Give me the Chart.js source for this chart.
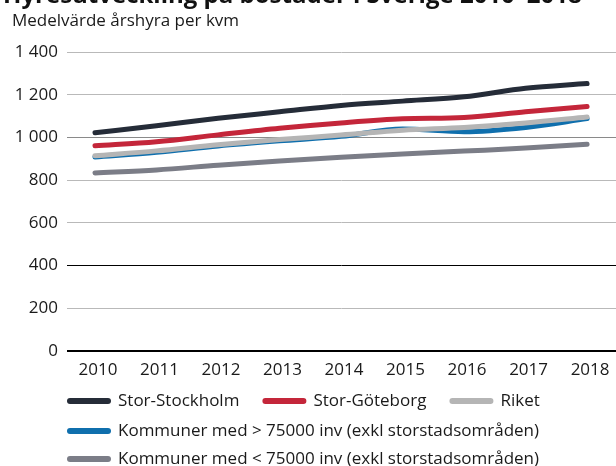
<!DOCTYPE html>
<html>
<head>
<meta charset="utf-8">
<script src="https://cdn.jsdelivr.net/npm/chart.js@4/dist/chart.umd.min.js"></script>
<style>
html,body{margin:0;padding:0;background:#fff;}
#wrap{position:relative;width:616px;height:466px;}
</style>
</head>
<body>
<div id="wrap"><canvas id="c" width="616" height="466"></canvas></div>
<script>
const titleText = "Hyresutveckling på bostäder i Sverige 2010–2018";
const subtitleText = "Medelvärde årshyra per kvm";
const years = [2010, 2011, 2012, 2013, 2014, 2015, 2016, 2017, 2018];
const yTicks = [0, 200, 400, 600, 800, 1000, 1200, 1400];

const seriesNames = [
  "Stor-Stockholm",
  "Stor-Göteborg",
  "Riket",
  "Kommuner med > 75000 inv (exkl storstadsområden)",
  "Kommuner med < 75000 inv (exkl storstadsområden)"
];
const storStockholm = [1022, 1055, 1090, 1120, 1150, 1170, 1190, 1230, 1252];
const storGoteborg  = [961, 980, 1012, 1043, 1068, 1087, 1093, 1120, 1145];
const riket         = [914, 937, 966, 990, 1011, 1034, 1047, 1068, 1096];
const kommunerOver  = [908, 930, 960, 984, 1005, 1040, 1027, 1047, 1088];
const kommunerUnder = [834, 848, 870, 890, 907, 922, 936, 950, 968];

const seriesValues = [storStockholm, storGoteborg, riket, kommunerOver, kommunerUnder];
const seriesColors = ["#252c38", "#c4263a", "#b5b5b5", "#0f6fad", "#7b7d87"];
const seriesOrder = [0, 0, 0, 1, 0];
const legendRows = [[0, 1, 2], [3], [4]];

const FONT = "'Open Sans', sans-serif";
const TEXT = "#1a1a1a";

function fmt(v) {
  return String(v).replace(/\B(?=(\d{3})+(?!\d))/g, " ");
}

const datasets = seriesNames.map((name, i) => ({
  label: name,
  data: years.map((y, j) => ({ x: y, y: seriesValues[i][j] })),
  borderColor: seriesColors[i],
  backgroundColor: seriesColors[i],
  borderWidth: 5,
  borderCapStyle: "round",
  borderJoinStyle: "round",
  pointRadius: 0,
  pointHoverRadius: 0,
  tension: 0.3,
  cubicInterpolationMode: "monotone",
  fill: false,
  order: seriesOrder[i]
}));

const textPlugin = {
  id: "textPlugin",
  afterDraw(chart) {
    const ctx = chart.ctx;
    ctx.save();
    // title (cut off at top as in reference)
    ctx.fillStyle = "#111";
    ctx.textBaseline = "alphabetic";
    ctx.textAlign = "left";
    let size = 22;
    ctx.font = "bold " + size + "px " + FONT;
    const w = ctx.measureText(titleText).width;
    size = size * 579 / w;
    ctx.font = "bold " + size.toFixed(2) + "px " + FONT;
    ctx.fillText(titleText, 3, 3);
    // subtitle
    ctx.fillStyle = TEXT;
    ctx.font = "17px " + FONT;
    ctx.textBaseline = "middle";
    ctx.fillText(subtitleText, 12, 21);
    // legend
    const rowY = [401, 431, 459];
    ctx.font = "17px " + FONT;
    legendRows.forEach((row, r) => {
      let x = 67;
      const y = rowY[r];
      row.forEach(i => {
        ctx.strokeStyle = seriesColors[i];
        ctx.lineWidth = 6;
        ctx.lineCap = "round";
        ctx.beginPath();
        ctx.moveTo(x + 3, y);
        ctx.lineTo(x + 41, y);
        ctx.stroke();
        ctx.fillStyle = TEXT;
        ctx.textBaseline = "middle";
        ctx.fillText(seriesNames[i], x + 51, y);
        x += 51 + ctx.measureText(seriesNames[i]).width + 23;
      });
    });
    ctx.restore();
  }
};

new Chart(document.getElementById("c"), {
  type: "line",
  data: { datasets },
  options: {
    responsive: false,
    animation: false,
    layout: { padding: { top: 52, left: 0, right: 0, bottom: 0 } },
    plugins: {
      legend: { display: false },
      tooltip: { enabled: false },
      title: { display: false }
    },
    scales: {
      x: {
        type: "linear",
        min: 2009.545,
        max: 2018.47,
        afterBuildTicks: s => { s.ticks = years.map(v => ({ value: v })); },
        afterFit: s => { s.height = 115; },
        grid: { display: false, drawTicks: false },
        border: { display: false },
        ticks: {
          color: TEXT,
          font: { family: FONT, size: 17 },
          padding: 9,
          labelOffset: 3,
          maxRotation: 0,
          autoSkip: false,
          callback: v => String(v)
        }
      },
      y: {
        min: 0,
        max: 1400,
        afterBuildTicks: s => { s.ticks = yTicks.map(v => ({ value: v })); },
        afterFit: s => { s.width = 67; },
        border: { display: false },
        grid: {
          drawTicks: false,
          color: c => {
            const v = c.tick ? c.tick.value : null;
            if (v === 0 || v === 400) return "#000";
            if (v === 1000) return "#8a8a8a";
            return "#b9b9b9";
          },
          lineWidth: c => (c.tick && c.tick.value === 0) ? 2 : 1
        },
        ticks: {
          color: TEXT,
          font: { family: FONT, size: 17 },
          padding: 9,
          callback: v => fmt(v)
        }
      }
    }
  },
  plugins: [textPlugin]
});
</script>
</body>
</html>
